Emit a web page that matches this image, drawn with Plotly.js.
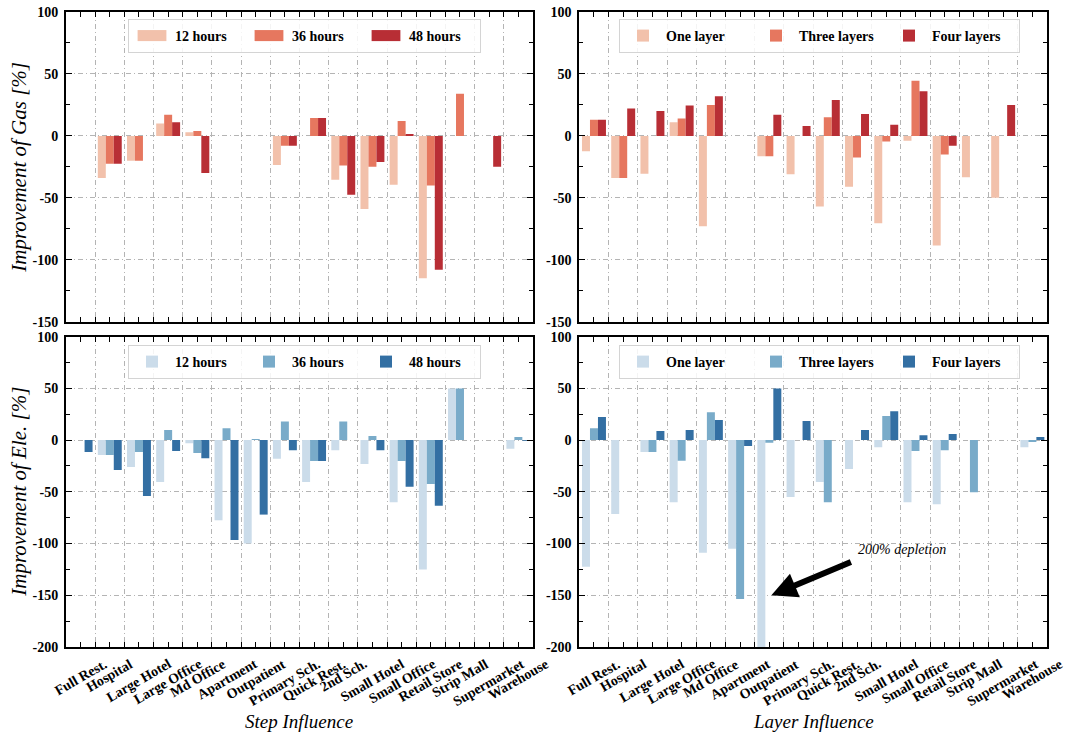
<!DOCTYPE html>
<html><head><meta charset="utf-8">
<script src="https://cdn.plot.ly/plotly-3.0.1.min.js"></script>
<style>body{margin:0;background:#fff}#chart{width:1066px;height:737px}</style>
</head><body><div id="chart"></div>
<script>
// Building categories (tick labels)
const buildings = ['Full Rest.','Hospital','Large Hotel','Large Office','Md Office','Apartment','Outpatient','Primary Sch.','Quick Rest.','2nd Sch.','Small Hotel','Small Office','Retail Store','Strip Mall','Supermarket','Warehouse'];
const stepNames = ['12 hours','36 hours','48 hours'];
const layerNames = ['One layer','Three layers','Four layers'];

// Improvement of Gas [%] - Step influence
const gasStep12 = [0,-34,-20,10,3,0,0,-23.5,0,-35.5,-59,-39.5,-115,0,0,0];
const gasStep36 = [0,-22.5,-20,17,4,0,0,-8,14.5,-24,-25,12,-40,34,0,0];
const gasStep48 = [0,-22.5,0,11,-30,0,0,-8,14.5,-47.5,-21,1.5,-108,0,-25,0];
// Improvement of Gas [%] - Layer influence
const gasLayer1 = [-12.5,-34,-30.5,11,-73,0,-16.5,-31,-57,-41,-70.5,-4,-88.5,-33.5,-50,0];
const gasLayer3 = [13,-34,0,14,25,0,-16.5,0,15,-17.5,-4.5,44.5,-15,0,0,0];
const gasLayer4 = [13,22,20,24.5,32,0,17,8,29,17.7,9,36,-8,0,25,0];
// Improvement of Ele. [%] - Step influence
const eleStep12 = [0,-14.5,-26,-40.5,-3,-77.5,-100,-18,-40.5,-9.7,-23,-60,-125,50,0,-8.4];
const eleStep36 = [0,-14.5,-11.5,9.7,-12.5,11.5,1,18,-20.3,18,4,-20.3,-42.5,50,0,3];
const eleStep48 = [-11.5,-29,-54,-10.6,-17.5,-96.5,-72,-9.7,-20.3,0,-9.7,-45,-63.5,0,0,-0.5];
// Improvement of Ele. [%] - Layer influence
const eleLayer1 = [-122.5,-71.3,-11.6,-60,-109,-105,-200,-55,-40.6,-28,-6.8,-60,-62,0,0,-6.8];
const eleLayer3 = [11.5,0,-11.6,-20,27,-153.5,-2.6,0,-60,0,23.2,-10.6,-9.7,-50.3,0,-1.9];
const eleLayer4 = [22.3,0,8.7,9.7,19.4,-5.8,50,18.4,0,9.7,28,4.8,5.8,0,0,2.9];

const gasTicks = [-150,-100,-50,0,50,100];
const eleTicks = [-200,-150,-100,-50,0,50,100];

const reds = ['#f2c1ab','#e6775f','#b82e35'];
const blues = ['#cbdcea','#79abc9','#336fa3'];

const xPos = buildings.map((_, i) => i + 0.5);

const panels = [
  {ax:'', series:[gasStep12,gasStep36,gasStep48], names:stepNames, colors:reds, legend:'legend'},
  {ax:'2', series:[gasLayer1,gasLayer3,gasLayer4], names:layerNames, colors:reds, legend:'legend2'},
  {ax:'3', series:[eleStep12,eleStep36,eleStep48], names:stepNames, colors:blues, legend:'legend3'},
  {ax:'4', series:[eleLayer1,eleLayer3,eleLayer4], names:layerNames, colors:blues, legend:'legend4'}
];

const data = [];
panels.forEach(p => {
  p.series.forEach((s, j) => {
    data.push({
      type:'bar', x:xPos, y:s, name:p.names[j],
      xaxis:'x'+p.ax, yaxis:'y'+p.ax, legend:p.legend,
      marker:{color:p.colors[j], line:{width:0}},
      hoverinfo:'skip'
    });
  });
});

const font = 'Liberation Serif, Times New Roman, serif';
const gridDash = '5px,3px,1px,3px';
const gridColor = '#b4b4b4';

function xaxis(domain, anchor){
  return {
    domain:domain, anchor:anchor, range:[0,16], fixedrange:true,
    tickmode:'linear', tick0:0, dtick:1, showticklabels:false,
    ticks:'inside', ticklen:5, tickwidth:1, tickcolor:'#000',
    showline:true, linecolor:'#000', linewidth:2, mirror:'ticks',
    showgrid:true, gridcolor:gridColor, griddash:gridDash, gridwidth:1,
    zeroline:false,
    minor:{tickmode:'linear', tick0:0.5, dtick:1, ticks:'inside', ticklen:5, tickwidth:1, tickcolor:'#000', showgrid:false}
  };
}
function yaxis(domain, anchor, ticks){
  return {
    domain:domain, anchor:anchor, range:[ticks[0], ticks[ticks.length-1]], fixedrange:true,
    tickmode:'array', tickvals:ticks, ticktext:ticks.map(String),
    tickfont:{family:font, size:14, weight:'bold', color:'#000'},
    ticks:'inside', ticklen:6, tickwidth:1, tickcolor:'#000', ticklabelstandoff:3,
    showline:true, linecolor:'#000', linewidth:2, mirror:'ticks',
    showgrid:true, gridcolor:gridColor, griddash:gridDash, gridwidth:1,
    zeroline:false,
    minor:{tickmode:'linear', tick0:0, dtick:25, ticks:'inside', ticklen:4, tickwidth:1, tickcolor:'#000', showgrid:false}
  };
}

const xL = [0, 0.476], xR = [0.5233, 1];
const yT = [0.5123, 1], yB = [0, 0.4887];

function legend(x, y, ew){
  return {x:x, y:y, xanchor:'left', yanchor:'top', orientation:'h',
    bgcolor:'rgba(255,255,255,0.85)', bordercolor:'#d4d4d4', borderwidth:1,
    font:{family:font, size:14, weight:'bold', color:'#000'},
    itemwidth:36,
    entrywidth:ew, entrywidthmode:'pixels', itemclick:false, itemdoubleclick:false};
}

const annotations = [];
['3','4'].forEach(ax => {
  buildings.forEach((b, i) => {
    annotations.push({xref:'x'+ax, yref:'paper', x:xPos[i], y:-0.0126,
      text:b, textangle:-30, xanchor:'center', yanchor:'top', showarrow:false, borderpad:0,
      font:{family:font, size:14, weight:'bold', color:'#000'}});
  });
});
annotations.push({xref:'x3 domain', yref:'paper', x:0.5, y:-0.118, text:'Step Influence', showarrow:false,
  xanchor:'center', yanchor:'middle', font:{family:font, size:19, style:'italic', color:'#000'}});
annotations.push({xref:'x4 domain', yref:'paper', x:0.5, y:-0.118, text:'Layer Influence', showarrow:false,
  xanchor:'center', yanchor:'middle', font:{family:font, size:19, style:'italic', color:'#000'}});
annotations.push({xref:'paper', yref:'y domain', x:-0.048, y:0.5, text:'Improvement of Gas [%]', textangle:-90, showarrow:false,
  xanchor:'center', yanchor:'middle', font:{family:font, size:21, style:'italic', color:'#000'}});
annotations.push({xref:'paper', yref:'y3 domain', x:-0.048, y:0.5, text:'Improvement of Ele. [%]', textangle:-90, showarrow:false,
  xanchor:'center', yanchor:'middle', font:{family:font, size:21, style:'italic', color:'#000'}});
// depletion arrow + note
annotations.push({xref:'x4', yref:'y4', x:6.57, y:-150, ax:81, ay:-34, text:'', showarrow:true,
  arrowhead:2, arrowsize:0.85, arrowwidth:6, arrowcolor:'#000'});
annotations.push({xref:'x4', yref:'y4', x:9.48, y:-105.5, text:'200% depletion', showarrow:false,
  xanchor:'left', yanchor:'middle', font:{family:font, size:14, style:'italic', color:'#000'}});

const layout = {
  width:1066, height:737,
  margin:{l:66, r:19, t:12, b:90, autoexpand:false},
  paper_bgcolor:'#fff', plot_bgcolor:'#fff',
  font:{family:font, color:'#000'},
  barmode:'group', bargap:0.18, bargroupgap:0,
  hovermode:false,
  xaxis:xaxis(xL,'y'), yaxis:yaxis(yT,'x',gasTicks),
  xaxis2:xaxis(xR,'y2'), yaxis2:yaxis(yT,'x2',gasTicks),
  xaxis3:xaxis(xL,'y3'), yaxis3:yaxis(yB,'x3',eleTicks),
  xaxis4:xaxis(xR,'y4'), yaxis4:yaxis(yB,'x4',eleTicks),
  legend:legend(0.0632, 0.989, 66),
  legend2:legend(0.5637, 0.989, 82),
  legend3:legend(0.0632, 0.4756, 66),
  legend4:legend(0.5637, 0.4756, 82),
  annotations:annotations,
  showlegend:true
};

Plotly.newPlot('chart', data, layout, {displayModeBar:false, staticPlot:true}).then(gd => {
  gd.querySelectorAll('.legend .legendpoints path').forEach(p => {
    p.setAttribute('transform', (p.getAttribute('transform') || '') + ' scale(2.4,0.92)');
  });
});
</script>
</body></html>
